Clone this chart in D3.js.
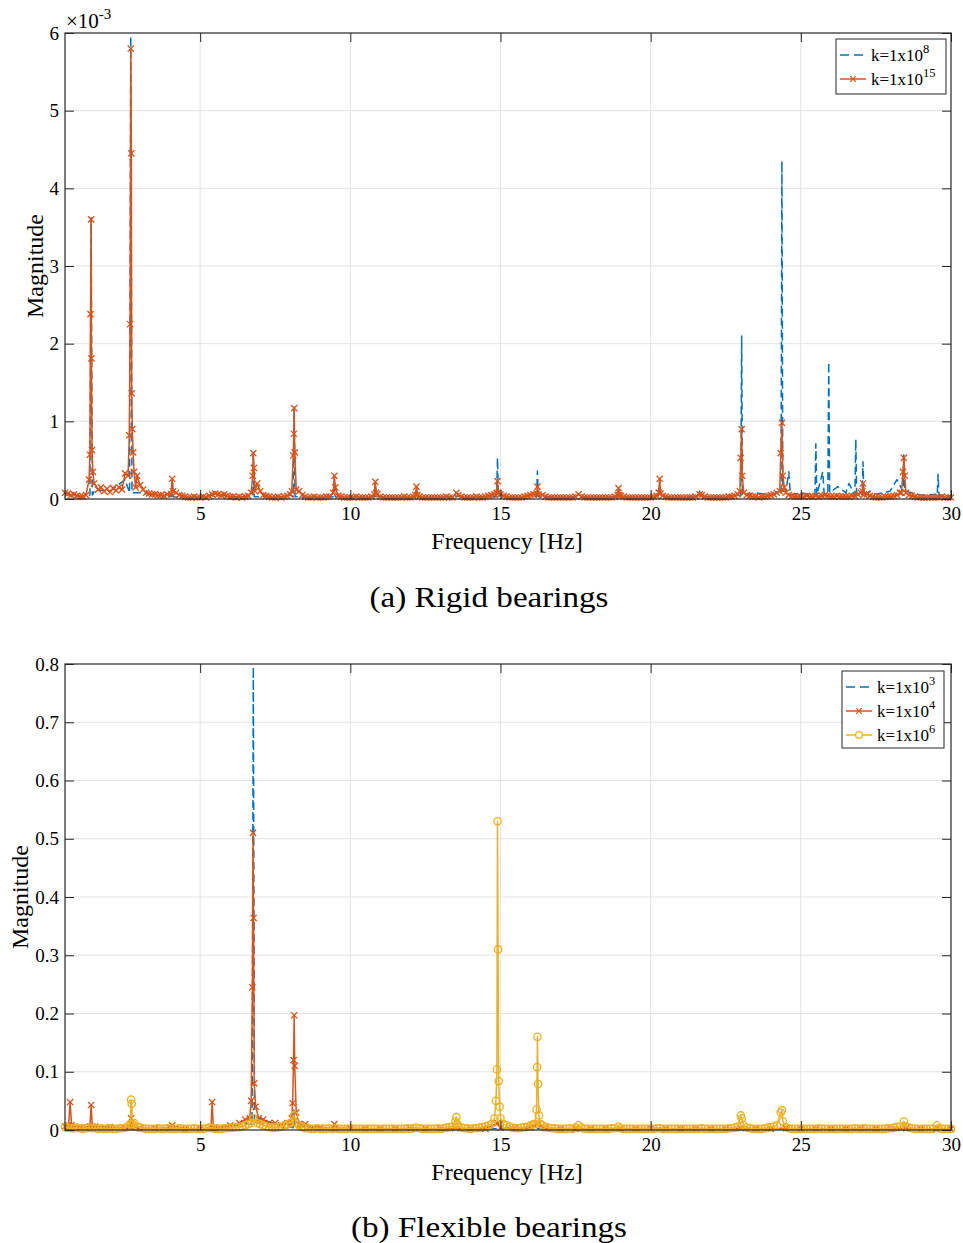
<!DOCTYPE html>
<html>
<head>
<meta charset="utf-8">
<title>Bearing spectra</title>
<script src="https://d3js.org/d3.v7.min.js"></script>
<style>
  body { margin: 0; background: #fff; }
  svg text { font-family: "Liberation Serif", "Times New Roman", serif; fill: #000; }
</style>
</head>
<body>
<div id="chart"></div>
<script>
// ---- data ----
const xTicks = [5, 10, 15, 20, 25, 30];
const rigidYTicks = [0, 1, 2, 3, 4, 5, 6];            // x 1e-3
const flexYTicks = [0, 0.1, 0.2, 0.3, 0.4, 0.5, 0.6, 0.7, 0.8];
const rigidExponents = ['8', '15'];
const flexExponents = ['3', '4', '6'];

// noise floor samples, first bin at 0.5 Hz (one row = 1 Hz when step is 0.1)
const rigidFloorK15Step = 0.1;
const rigidFloorK15 = [
  0.08, 0.07, 0.05, 0.06, 0.04, 0.03, 0.03, 0.05, 0.10, 0.20,
  0.16, 0.12, 0.15, 0.10, 0.13, 0.09, 0.14, 0.11, 0.15, 0.12,
  0.33, 0.25, 0.40, 0.60, 0.30, 0.18, 0.12, 0.08, 0.07, 0.06,
  0.06, 0.05, 0.05, 0.04, 0.06, 0.05, 0.10, 0.08, 0.05, 0.04,
  0.03, 0.02, 0.02, 0.03, 0.02, 0.02, 0.03, 0.02, 0.04, 0.06,
  0.07, 0.06, 0.05, 0.06, 0.04, 0.03, 0.03, 0.02, 0.03, 0.02,
  0.03, 0.04, 0.06, 0.10, 0.20, 0.10, 0.05, 0.04, 0.03, 0.02,
  0.02, 0.03, 0.02, 0.03, 0.04, 0.06, 0.10, 0.20, 0.10, 0.05,
  0.03, 0.02, 0.02, 0.03, 0.02, 0.02, 0.02, 0.03, 0.03, 0.04,
  0.08, 0.04, 0.03, 0.02, 0.02, 0.02, 0.02, 0.03, 0.02, 0.02,
  0.02, 0.02, 0.03, 0.05, 0.06, 0.03, 0.02, 0.02, 0.02, 0.02,
  0.02, 0.02, 0.02, 0.03, 0.02, 0.02, 0.03, 0.05, 0.03, 0.02,
  0.02, 0.02, 0.02, 0.02, 0.02, 0.02, 0.02, 0.03, 0.02, 0.02,
  0.04, 0.05, 0.03, 0.02, 0.02, 0.02, 0.02, 0.03, 0.02, 0.02,
  0.03, 0.04, 0.05, 0.06, 0.08, 0.06, 0.04, 0.03, 0.02, 0.02,
  0.02, 0.02, 0.02, 0.03, 0.04, 0.05, 0.06, 0.07, 0.08, 0.05,
  0.03, 0.02, 0.02, 0.02, 0.02, 0.02, 0.02, 0.02, 0.02, 0.02,
  0.03, 0.05, 0.03, 0.02, 0.02, 0.02, 0.02, 0.02, 0.02, 0.02,
  0.02, 0.02, 0.02, 0.03, 0.04, 0.04, 0.03, 0.02, 0.02, 0.02,
  0.02, 0.02, 0.02, 0.02, 0.02, 0.02, 0.03, 0.04, 0.06, 0.04,
  0.03, 0.02, 0.02, 0.02, 0.02, 0.02, 0.02, 0.02, 0.02, 0.02,
  0.03, 0.04, 0.05, 0.03, 0.02, 0.02, 0.02, 0.02, 0.02, 0.02,
  0.02, 0.03, 0.03, 0.04, 0.06, 0.10, 0.12, 0.05, 0.04, 0.03,
  0.03, 0.02, 0.03, 0.03, 0.04, 0.05, 0.06, 0.08, 0.12, 0.10,
  0.08, 0.05, 0.04, 0.03, 0.03, 0.03, 0.03, 0.04, 0.03, 0.03,
  0.04, 0.03, 0.04, 0.05, 0.04, 0.03, 0.03, 0.04, 0.03, 0.03,
  0.03, 0.03, 0.04, 0.04, 0.06, 0.08, 0.10, 0.06, 0.04, 0.03,
  0.02, 0.02, 0.02, 0.03, 0.03, 0.03, 0.04, 0.05, 0.08, 0.12,
  0.10, 0.05, 0.04, 0.03, 0.02, 0.02, 0.02, 0.02, 0.02, 0.02,
  0.02, 0.02, 0.03, 0.02, 0.02, 0.02
];
const rigidFloorK8Step = 0.5;
const rigidFloorK8 = [
  0.06, 0.03, 0.12, 0.10, 0.25, 0.08, 0.05, 0.04, 0.02, 0.02, 0.06,
  0.03, 0.03, 0.03, 0.02, 0.05, 0.02, 0.02, 0.05, 0.02, 0.02, 0.03,
  0.02, 0.02, 0.02, 0.02, 0.04, 0.02, 0.03, 0.05, 0.02, 0.04, 0.03,
  0.02, 0.03, 0.02, 0.02, 0.03, 0.02, 0.02, 0.03, 0.02, 0.04, 0.02,
  0.03, 0.10, 0.04, 0.05, 0.10, 0.08, 0.10, 0.09, 0.08, 0.10, 0.06,
  0.07, 0.10, 0.05, 0.06, 0.04
];
// peaks [frequency Hz, magnitude x1e-3]
const rigidPeaksK8 = [
  [1.33, 0.05], [1.37, 3.62], [1.41, 0.05],
  [2.65, 0.08], [2.69, 5.96], [2.73, 0.08],
  [4.04, 0.03], [4.07, 0.26], [4.10, 0.03],
  [6.74, 0.03], [6.77, 0.6], [6.80, 0.03],
  [8.10, 0.03], [8.13, 1.18], [8.16, 0.03],
  [9.44, 0.03], [9.47, 0.3], [9.50, 0.03],
  [10.80, 0.03], [10.83, 0.22], [10.86, 0.03],
  [12.17, 0.03], [12.2, 0.16], [12.23, 0.03],
  [14.87, 0.03], [14.9, 0.53], [14.93, 0.03],
  [16.2, 0.03], [16.23, 0.36], [16.26, 0.03],
  [18.9, 0.03], [18.93, 0.14], [18.96, 0.03],
  [20.27, 0.03], [20.3, 0.26], [20.33, 0.03],
  [21.6, 0.03], [21.63, 0.1], [21.66, 0.03],
  [23.0, 0.05], [23.03, 2.1], [23.06, 0.05], [23.47, 0.08],
  [24.34, 0.08], [24.37, 4.35], [24.4, 0.1], [24.6, 0.35], [24.65, 0.05],
  [25.47, 0.05], [25.5, 0.71], [25.53, 0.05],
  [25.73, 0.35], [25.78, 0.05], [25.9, 0.1], [25.93, 1.76], [25.96, 0.08],
  [26.23, 0.16], [26.6, 0.2], [26.8, 0.05], [26.83, 0.77], [26.86, 0.05],
  [27.04, 0.05], [27.07, 0.48], [27.1, 0.05], [27.3, 0.1], [27.97, 0.1],
  [28.2, 0.25], [28.4, 0.1], [28.43, 0.59], [28.46, 0.1],
  [29.54, 0.04], [29.57, 0.32], [29.6, 0.04]
];
const rigidPeaksK15 = [
  [1.30, 0.25], [1.33, 0.57], [1.35, 2.38], [1.37, 3.6], [1.38, 1.81],
  [1.40, 0.63], [1.43, 0.35], [1.47, 0.2],
  [2.60, 0.3], [2.64, 0.82], [2.67, 2.25], [2.69, 5.8], [2.71, 4.45],
  [2.72, 1.36], [2.74, 0.9], [2.77, 0.6], [2.80, 0.35], [2.85, 0.15],
  [4.03, 0.06], [4.07, 0.26], [4.10, 0.1],
  [6.70, 0.08], [6.75, 0.3], [6.77, 0.59], [6.79, 0.4], [6.83, 0.1],
  [8.05, 0.1], [8.10, 0.56], [8.12, 0.84], [8.13, 1.17], [8.15, 0.6], [8.20, 0.12],
  [9.43, 0.08], [9.47, 0.3], [9.50, 0.15],
  [10.80, 0.06], [10.83, 0.22], [10.86, 0.08],
  [12.17, 0.05], [12.2, 0.16], [12.23, 0.05],
  [13.53, 0.08],
  [14.87, 0.08], [14.9, 0.23], [14.93, 0.08],
  [16.2, 0.07], [16.23, 0.16], [16.27, 0.06],
  [17.6, 0.06],
  [18.9, 0.05], [18.93, 0.14], [18.96, 0.05],
  [20.27, 0.08], [20.3, 0.26], [20.33, 0.07],
  [21.63, 0.06],
  [22.97, 0.1], [23.0, 0.53], [23.03, 0.9], [23.05, 0.3], [23.1, 0.08],
  [24.3, 0.1], [24.33, 0.59], [24.37, 0.98], [24.4, 0.3], [24.45, 0.15], [24.5, 0.08],
  [27.05, 0.1], [27.07, 0.2], [27.1, 0.06],
  [28.35, 0.08], [28.4, 0.35], [28.43, 0.53], [28.46, 0.3], [28.5, 0.08]
];

const flexFloorK3Step = 0.5;
const flexFloorK3 = [
  0.003, 0.003, 0.003, 0.003, 0.003, 0.002, 0.002, 0.002, 0.002, 0.002, 0.003,
  0.006, 0.012, 0.020, 0.010, 0.005, 0.006, 0.002, 0.002, 0.002, 0.002, 0.002,
  0.002, 0.002, 0.002, 0.002, 0.002, 0.002, 0.002, 0.002, 0.002, 0.002, 0.002,
  0.002, 0.002, 0.002, 0.002, 0.002, 0.002, 0.002, 0.002, 0.002, 0.002, 0.002,
  0.002, 0.002, 0.002, 0.002, 0.002, 0.002, 0.002, 0.002, 0.002, 0.002, 0.002,
  0.002, 0.002, 0.002, 0.002, 0.002
];
const flexFloorK4Step = 0.5;
const flexFloorK4 = [
  0.006, 0.004, 0.006, 0.005, 0.004, 0.003, 0.003, 0.004, 0.002, 0.002, 0.004,
  0.008, 0.012, 0.015, 0.012, 0.008, 0.010, 0.004, 0.003, 0.003, 0.002, 0.002,
  0.002, 0.002, 0.002, 0.002, 0.003, 0.002, 0.002, 0.004, 0.003, 0.004, 0.003,
  0.002, 0.002, 0.002, 0.002, 0.002, 0.002, 0.003, 0.002, 0.002, 0.002, 0.002,
  0.002, 0.003, 0.002, 0.002, 0.003, 0.002, 0.002, 0.002, 0.002, 0.002, 0.002,
  0.002, 0.003, 0.002, 0.002, 0.002
];
const flexFloorK6Step = 0.1;
const flexFloorK6 = [
  0.005, 0.004, 0.003, 0.003, 0.004, 0.003, 0.002, 0.003, 0.004, 0.003,
  0.003, 0.002, 0.003, 0.002, 0.002, 0.003, 0.002, 0.002, 0.003, 0.003,
  0.004, 0.006, 0.008, 0.012, 0.006, 0.004, 0.003, 0.002, 0.002, 0.002,
  0.002, 0.003, 0.002, 0.002, 0.003, 0.002, 0.002, 0.002, 0.003, 0.002,
  0.002, 0.002, 0.002, 0.003, 0.002, 0.002, 0.002, 0.003, 0.004, 0.003,
  0.002, 0.002, 0.002, 0.003, 0.003, 0.004, 0.004, 0.005, 0.005, 0.006,
  0.008, 0.010, 0.012, 0.015, 0.012, 0.010, 0.008, 0.006, 0.005, 0.004,
  0.004, 0.005, 0.006, 0.008, 0.010, 0.012, 0.015, 0.012, 0.008, 0.005,
  0.003, 0.003, 0.002, 0.002, 0.003, 0.002, 0.002, 0.002, 0.003, 0.002,
  0.003, 0.002, 0.002, 0.002, 0.002, 0.003, 0.002, 0.002, 0.002, 0.002,
  0.002, 0.002, 0.002, 0.002, 0.002, 0.002, 0.002, 0.002, 0.002, 0.002,
  0.002, 0.002, 0.002, 0.002, 0.003, 0.002, 0.003, 0.004, 0.003, 0.002,
  0.002, 0.002, 0.002, 0.002, 0.003, 0.002, 0.003, 0.004, 0.005, 0.006,
  0.008, 0.006, 0.004, 0.003, 0.003, 0.002, 0.003, 0.003, 0.004, 0.005,
  0.006, 0.008, 0.010, 0.012, 0.015, 0.012, 0.010, 0.008, 0.006, 0.004,
  0.003, 0.003, 0.004, 0.005, 0.006, 0.008, 0.010, 0.012, 0.015, 0.008,
  0.005, 0.004, 0.003, 0.003, 0.002, 0.002, 0.002, 0.002, 0.003, 0.002,
  0.004, 0.006, 0.004, 0.002, 0.002, 0.002, 0.002, 0.002, 0.002, 0.002,
  0.002, 0.002, 0.003, 0.003, 0.004, 0.003, 0.002, 0.002, 0.002, 0.002,
  0.002, 0.002, 0.002, 0.002, 0.002, 0.002, 0.002, 0.003, 0.003, 0.002,
  0.002, 0.002, 0.002, 0.002, 0.002, 0.002, 0.002, 0.002, 0.002, 0.002,
  0.002, 0.002, 0.003, 0.002, 0.002, 0.002, 0.002, 0.002, 0.002, 0.002,
  0.002, 0.003, 0.003, 0.004, 0.006, 0.008, 0.008, 0.004, 0.003, 0.002,
  0.002, 0.002, 0.002, 0.003, 0.004, 0.005, 0.006, 0.008, 0.010, 0.008,
  0.005, 0.003, 0.002, 0.002, 0.002, 0.002, 0.002, 0.002, 0.002, 0.002,
  0.002, 0.003, 0.002, 0.002, 0.002, 0.002, 0.002, 0.002, 0.002, 0.002,
  0.002, 0.002, 0.002, 0.003, 0.002, 0.002, 0.003, 0.002, 0.002, 0.002,
  0.002, 0.002, 0.002, 0.002, 0.003, 0.003, 0.004, 0.005, 0.006, 0.008,
  0.006, 0.004, 0.003, 0.002, 0.002, 0.002, 0.002, 0.002, 0.002, 0.002,
  0.004, 0.003, 0.002, 0.002, 0.002, 0.002
];
const flexPeaksK3 = [
  [6.73, 0.01], [6.77, 0.795], [6.81, 0.01],
  [8.10, 0.005], [8.13, 0.03], [8.16, 0.005]
];
const flexPeaksK4 = [
  [0.62, 0.008], [0.67, 0.048], [0.72, 0.008],
  [1.33, 0.006], [1.37, 0.043], [1.41, 0.006],
  [2.67, 0.005], [2.7, 0.02], [2.73, 0.005],
  [4.07, 0.008],
  [5.36, 0.004], [5.4, 0.048], [5.44, 0.004],
  [6.3, 0.012], [6.5, 0.018], [6.65, 0.02], [6.7, 0.05], [6.74, 0.245],
  [6.76, 0.51], [6.78, 0.364], [6.80, 0.08], [6.85, 0.04], [6.95, 0.02],
  [7.1, 0.018], [7.3, 0.012],
  [7.7, 0.008], [7.9, 0.012], [8.05, 0.02], [8.08, 0.046], [8.11, 0.12],
  [8.13, 0.197], [8.15, 0.11], [8.2, 0.03], [8.3, 0.01],
  [9.44, 0.003], [9.47, 0.01], [9.5, 0.003],
  [14.9, 0.012], [16.23, 0.01]
];
const flexPeaksK6 = [
  [2.67, 0.01], [2.7, 0.052], [2.72, 0.045], [2.75, 0.01],
  [6.77, 0.02], [8.13, 0.025],
  [13.5, 0.015], [13.53, 0.022], [13.56, 0.01],
  [14.8, 0.02], [14.85, 0.05], [14.88, 0.104], [14.9, 0.53], [14.92, 0.31],
  [14.94, 0.084], [14.97, 0.04], [15.0, 0.02],
  [16.15, 0.01], [16.2, 0.035], [16.22, 0.108], [16.23, 0.16], [16.25, 0.079],
  [16.28, 0.025], [16.33, 0.01],
  [17.6, 0.008], [18.93, 0.006],
  [23.0, 0.025], [23.03, 0.02],
  [24.33, 0.03], [24.37, 0.034], [24.4, 0.015],
  [28.43, 0.015], [29.53, 0.008]
];

// ---- drawing ----
const W = 963, H = 1243;
const BLUE = '#0072BD', ORANGE = '#D95319', YELLOW = '#EDB120';
const svg = d3.select('#chart').append('svg').attr('width', W).attr('height', H);

// merge floor bins and peak samples; floor bins sitting on a peak are skipped
function series(floor, step, peaks) {
  const bins = floor.map((v, i) => [0.5 + i * step, v])
    .filter(b => !peaks.some(p => Math.abs(p[0] - b[0]) < 0.035));
  return bins.concat(peaks).sort((a, b) => a[0] - b[0]);
}

function xMark(cx, cy, m) {
  return `M${cx - m},${cy - m}L${cx + m},${cy + m}M${cx - m},${cy + m}L${cx + m},${cy - m}`;
}

function drawPanel(p) {
  const left = 65, right = 951;
  const x = d3.scaleLinear().domain([0.5, 30]).range([left, right]);
  const y = d3.scaleLinear().domain(p.yDomain).range([p.bottom, p.top]);
  const g = svg.append('g');

  // grid
  g.selectAll('.vg').data(xTicks.filter(t => t < 30)).enter().append('line')
    .attr('x1', d => x(d)).attr('x2', d => x(d))
    .attr('y1', p.top).attr('y2', p.bottom)
    .attr('stroke', '#e3e3e3').attr('stroke-width', 1);
  g.selectAll('.hg').data(p.yTicks.slice(1, -1)).enter().append('line')
    .attr('x1', left).attr('x2', right)
    .attr('y1', d => y(d)).attr('y2', d => y(d))
    .attr('stroke', '#e3e3e3').attr('stroke-width', 1);

  // data
  p.series.forEach(s => {
    const line = d3.line().x(d => x(d[0])).y(d => y(d[1]));
    g.append('path').datum(s.data)
      .attr('d', line)
      .attr('fill', 'none')
      .attr('stroke', s.color)
      .attr('stroke-width', 1.5)
      .attr('stroke-linejoin', 'round')
      .attr('stroke-dasharray', s.dash ? '8,4' : null);
    if (s.marker === 'x') {
      g.selectAll(null).data(s.data).enter().append('path')
        .attr('d', d => xMark(x(d[0]), y(d[1]), 3.1))
        .attr('stroke', s.color).attr('stroke-width', 1.3).attr('fill', 'none');
    } else if (s.marker === 'o') {
      g.selectAll(null).data(s.data).enter().append('circle')
        .attr('cx', d => x(d[0])).attr('cy', d => y(d[1])).attr('r', 3.7)
        .attr('stroke', s.color).attr('stroke-width', 1.3).attr('fill', 'none');
    }
  });

  // axes
  const fs = '19px';
  const bx = g.append('g').attr('transform', `translate(0,${p.bottom})`)
    .call(d3.axisBottom(x).tickValues(xTicks).tickSize(-9).tickPadding(8));
  bx.selectAll('text').style('font-size', fs).attr('fill', '#000');
  g.append('g').attr('transform', `translate(0,${p.top})`)
    .call(d3.axisTop(x).tickValues(xTicks).tickSize(-9).tickFormat(''));
  const ly = g.append('g').attr('transform', `translate(${left},0)`)
    .call(d3.axisLeft(y).tickValues(p.yTicks).tickSize(-9).tickPadding(6).tickFormat(p.fmt));
  ly.selectAll('text').style('font-size', fs).attr('fill', '#000');
  g.append('g').attr('transform', `translate(${right},0)`)
    .call(d3.axisRight(y).tickValues(p.yTicks).tickSize(-9).tickFormat(''));
  g.selectAll('.domain').remove();
  g.selectAll('.tick line').attr('stroke', '#262626');
  g.append('rect').attr('x', left).attr('y', p.top)
    .attr('width', right - left).attr('height', p.bottom - p.top)
    .attr('fill', 'none').attr('stroke', '#262626').attr('stroke-width', 1.2);

  // labels
  g.append('text').attr('x', 507).attr('y', p.bottom + 50)
    .attr('text-anchor', 'middle').style('font-size', '24px').text('Frequency [Hz]');
  g.append('text').attr('transform', `translate(${p.ylabX},${(p.top + p.bottom) / 2}) rotate(-90)`)
    .attr('text-anchor', 'middle').attr('dy', '0.35em').style('font-size', '24px').text('Magnitude');
  g.append('text').attr('x', 489).attr('y', p.captionY)
    .attr('text-anchor', 'middle').style('font-size', '29px')
    .attr('textLength', p.captionLen).attr('lengthAdjust', 'spacingAndGlyphs')
    .text(p.caption);

  if (p.exponent) {
    const t = g.append('text').attr('x', 66).attr('y', p.top - 5).style('font-size', '21px');
    t.append('tspan').text('\u00d710');
    t.append('tspan').attr('dy', -9).style('font-size', '15px').text(p.exponent);
  }

  // legend
  const L = p.legend;
  g.append('rect').attr('x', L.x).attr('y', L.y).attr('width', L.w).attr('height', L.h)
    .attr('fill', '#fff').attr('stroke', '#262626').attr('stroke-width', 1);
  p.series.forEach((s, i) => {
    const cy = L.y + 16 + i * 24;
    g.append('line').attr('x1', L.x + 4).attr('x2', L.x + 30).attr('y1', cy).attr('y2', cy)
      .attr('stroke', s.color).attr('stroke-width', 1.5)
      .attr('stroke-dasharray', s.dash ? '9,5' : null);
    const mx = L.x + 17;
    if (s.marker === 'x') {
      g.append('path').attr('d', xMark(mx, cy, 2.8))
        .attr('stroke', s.color).attr('stroke-width', 1.2);
    } else if (s.marker === 'o') {
      g.append('circle').attr('cx', mx).attr('cy', cy).attr('r', 3.4)
        .attr('fill', '#fff').attr('stroke', s.color).attr('stroke-width', 1.2);
    }
    const t = g.append('text').attr('x', L.x + L.tx).attr('y', cy + 6).style('font-size', '17px');
    t.append('tspan').text('k=1x10');
    t.append('tspan').attr('dy', -8).style('font-size', '12.5px').text(s.exp);
  });
}

drawPanel({
  top: 33, bottom: 499, yDomain: [0, 6], yTicks: rigidYTicks, fmt: d3.format('d'),
  exponent: '-3', ylabX: 35, captionY: 607, captionLen: 239, caption: '(a) Rigid bearings',
  legend: { x: 836, y: 39, w: 110, h: 55, tx: 35 },
  series: [
    { data: series(rigidFloorK8, rigidFloorK8Step, rigidPeaksK8), color: BLUE, dash: true, exp: rigidExponents[0] },
    { data: series(rigidFloorK15, rigidFloorK15Step, rigidPeaksK15), color: ORANGE, marker: 'x', exp: rigidExponents[1] }
  ]
});

drawPanel({
  top: 664, bottom: 1130, yDomain: [0, 0.8], yTicks: flexYTicks, fmt: d3.format('.1~f'),
  ylabX: 20, captionY: 1237, captionLen: 276, caption: '(b) Flexible bearings',
  legend: { x: 842, y: 671, w: 102, h: 77, tx: 35 },
  series: [
    { data: series(flexFloorK3, flexFloorK3Step, flexPeaksK3), color: BLUE, dash: true, exp: flexExponents[0] },
    { data: series(flexFloorK4, flexFloorK4Step, flexPeaksK4), color: ORANGE, marker: 'x', exp: flexExponents[1] },
    { data: series(flexFloorK6, flexFloorK6Step, flexPeaksK6), color: YELLOW, marker: 'o', exp: flexExponents[2] }
  ]
});
</script>
</body>
</html>
